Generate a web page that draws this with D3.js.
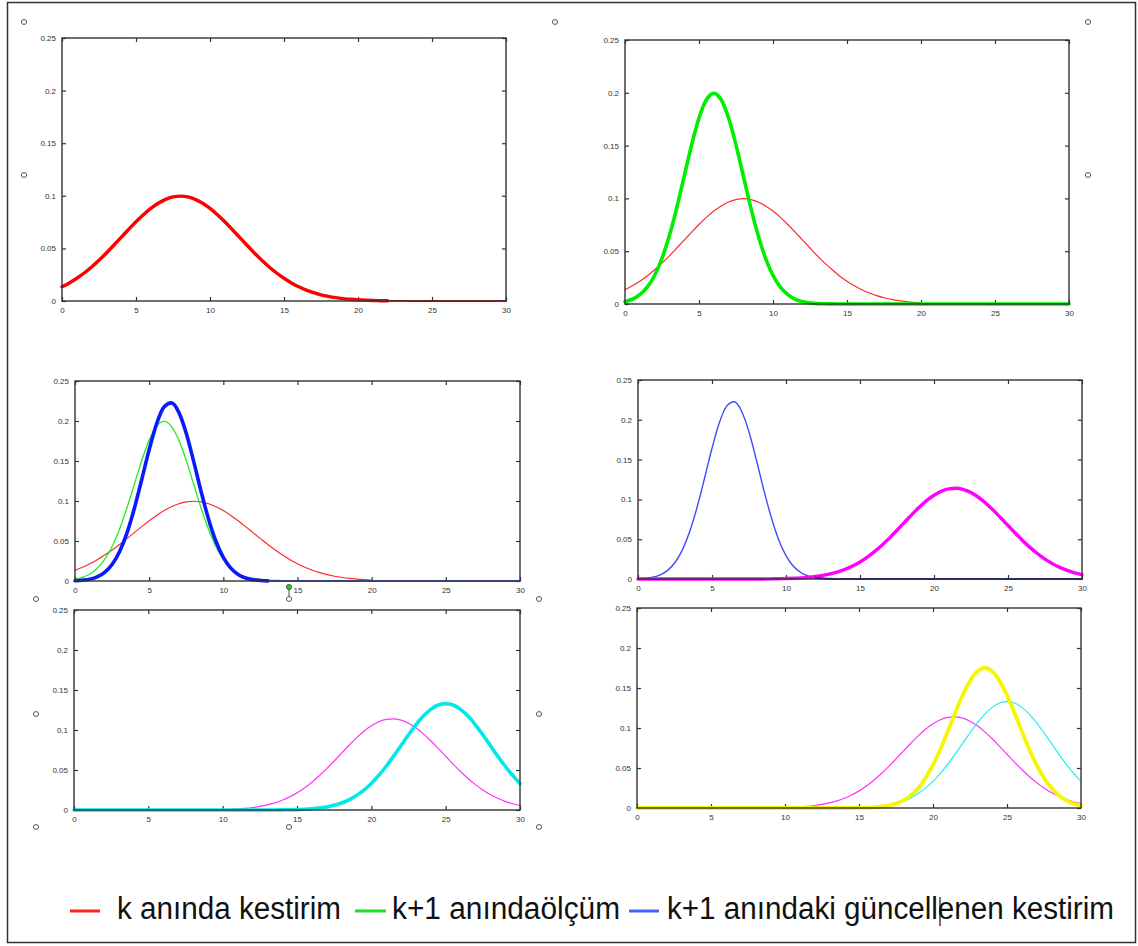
<!DOCTYPE html>
<html>
<head>
<meta charset="utf-8">
<script src="https://cdn.jsdelivr.net/npm/d3@7"></script>
<style>
  body { margin: 0; background: #fff; }
  svg { display: block; }
</style>
</head>
<body>
<div id="chart"></div>
<script>
// x grid shared by all curves (read every 0.5)
var xs = [0,0.5,1,1.5,2,2.5,3,3.5,4,4.5,5,5.5,6,6.5,7,7.5,8,8.5,9,9.5,
  10,10.5,11,11.5,12,12.5,13,13.5,14,14.5,15,15.5,16,16.5,17,17.5,18,18.5,19,19.5,
  20,20.5,21,21.5,22,22.5,23,23.5,24,24.5,25,25.5,26,26.5,27,27.5,28,28.5,29,29.5,30];

// k anında kestirim (red)
var redK = [0.0135,0.0172,0.0216,0.0266,0.0324,0.0387,0.0456,0.0530,0.0605,0.0680,
  0.0753,0.0820,0.0880,0.0929,0.0966,0.0989,0.0997,0.0989,0.0966,0.0929,
  0.0880,0.0820,0.0753,0.0680,0.0605,0.0530,0.0456,0.0387,0.0324,0.0266,
  0.0216,0.0172,0.0135,0.0104,0.0079,0.0059,0.0044,0.0032,0.0023,0.0016,
  0.0011,0.0008,0.0005,0.0003,0.0002,0.0001,0.0001,0,0,0,
  0,0,0,0,0,0,0,0,0,0,0];

// k+1 anında ölçüm (green)
var greenMeas = [0.0022,0.0045,0.0088,0.0159,0.0270,0.0432,0.0648,0.0913,0.1210,0.1506,
  0.1761,0.1934,0.1995,0.1934,0.1761,0.1506,0.1210,0.0913,0.0648,0.0432,
  0.0270,0.0159,0.0088,0.0045,0.0022,0.0010,0.0004,0.0002,0.0001,0,
  0,0,0,0,0,0,0,0,0,0,
  0,0,0,0,0,0,0,0,0,0,
  0,0,0,0,0,0,0,0,0,0,0];

// k+1 anındaki güncellenen kestirim (blue)
var blueUpd = [0.0004,0.0010,0.0023,0.0052,0.0108,0.0207,0.0366,0.0599,0.0907,0.1269,
  0.1642,0.1965,0.2175,0.2226,0.2108,0.1846,0.1495,0.1119,0.0776,0.0497,
  0.0294,0.0161,0.0082,0.0038,0.0017,0.0007,0.0002,0.0001,0,0,
  0,0,0,0,0,0,0,0,0,0,
  0,0,0,0,0,0,0,0,0,0,
  0,0,0,0,0,0,0,0,0,0,0];

// next prediction (magenta)
var magentaPred = [0,0,0,0,0,0,0,0,0,0,
  0,0,0,0,0,0,0,0,0.0002,0.0004,
  0.0006,0.0009,0.0014,0.0021,0.0031,0.0045,0.0064,0.0089,0.0122,0.0163,
  0.0214,0.0275,0.0347,0.0428,0.0517,0.0613,0.0711,0.0809,0.0901,0.0984,
  0.1052,0.1103,0.1133,0.1140,0.1123,0.1085,0.1027,0.0952,0.0865,0.0770,
  0.0672,0.0574,0.0481,0.0394,0.0317,0.0250,0.0193,0.0146,0.0108,0.0078,0.0056];

// next measurement (cyan)
var cyanMeas = [0,0,0,0,0,0,0,0,0,0,
  0,0,0,0,0,0,0,0,0,0,
  0,0,0,0,0,0,0,0,0.0002,0.0003,
  0.0005,0.0009,0.0015,0.0024,0.0038,0.0058,0.0087,0.0127,0.0180,0.0248,
  0.0332,0.0432,0.0547,0.0673,0.0807,0.0940,0.1065,0.1174,0.1258,0.1312,
  0.1330,0.1312,0.1258,0.1174,0.1065,0.0940,0.0807,0.0673,0.0547,0.0432,0.0332];

// next update (yellow)
var yellowUpd = [0,0,0,0,0,0,0,0,0,0,
  0,0,0,0,0,0,0,0,0,0,
  0,0,0,0,0,0,0,0,0,0,
  0.0002,0.0004,0.0008,0.0016,0.0030,0.0055,0.0095,0.0158,0.0249,0.0375,
  0.0538,0.0735,0.0958,0.1190,0.1409,0.1589,0.1708,0.1750,0.1708,0.1589,
  0.1409,0.1190,0.0958,0.0735,0.0538,0.0375,0.0249,0.0158,0.0095,0.0055,0.0030];

var xTicks = [0, 5, 10, 15, 20, 25, 30];
var yTicks = [0, 0.05, 0.1, 0.15, 0.2, 0.25];
var yTickLabels = ["0", "0.05", "0.1", "0.15", "0.2", "0.25"];

var legendLabels = ["k anında kestirim", "k+1 anındaölçüm", "k+1 anındaki güncellenen kestirim"];
var legendColors = ["#ff2020", "#22dd22", "#4466ff"];

var series = {
  red: xs.map((x, i) => [x, redK[i]]),
  green: xs.map((x, i) => [x, greenMeas[i]]),
  blue: xs.map((x, i) => [x, blueUpd[i]]),
  magenta: xs.map((x, i) => [x, magentaPred[i]]),
  cyan: xs.map((x, i) => [x, cyanMeas[i]]),
  yellow: xs.map((x, i) => [x, yellowUpd[i]])
};

var svgWidth = 1138;
var svgHeight = 946;

var svg = d3.select("#chart")
  .append("svg")
  .attr("width", svgWidth)
  .attr("height", svgHeight);

// outer frame
svg.append("rect")
  .attr("x", 7.5).attr("y", 2.5)
  .attr("width", 1128).attr("height", 940)
  .attr("fill", "#fff")
  .attr("stroke", "#333")
  .attr("stroke-width", 1.5);

// the six panels: plot box + curves drawn in order
var panels = [
  { x0: 62, x1: 506, y0: 38, y1: 301, layers: [
    { s: "red", c: "#ff0000", w: 1.8 },
    { s: "red", c: "#ff0000", w: 3.4, upTo: 22 }
  ]},
  { x0: 625, x1: 1069, y0: 40, y1: 304, layers: [
    { s: "red", c: "#ff2a2a", w: 1.2, upTo: 20 },
    { s: "green", c: "#00ee00", w: 3.6 }
  ]},
  { x0: 75, x1: 520, y0: 381, y1: 581, layers: [
    { s: "red", c: "#ff2a2a", w: 1.2, upTo: 20 },
    { s: "green", c: "#22ee22", w: 1.3 },
    { s: "blue", c: "#4a6cff", w: 2.2 },
    { s: "blue", c: "#0a1aff", w: 3.6, upTo: 13 }
  ]},
  { x0: 638, x1: 1082, y0: 380, y1: 579, layers: [
    { s: "blue", c: "#3c4cff", w: 1.4 },
    { s: "magenta", c: "#ff00ff", w: 3.4 },
    { s: "blue", c: "#1a22dd", w: 2, from: 12 }
  ]},
  { x0: 74, x1: 520, y0: 610, y1: 810, layers: [
    { s: "magenta", c: "#ff33ff", w: 1.2, from: 10.5 },
    { s: "cyan", c: "#00e8e8", w: 3.6 }
  ]},
  { x0: 637, x1: 1081, y0: 608, y1: 808, layers: [
    { s: "magenta", c: "#ff33ff", w: 1.2, from: 10.5 },
    { s: "cyan", c: "#22eeee", w: 1.2, from: 18 },
    { s: "yellow", c: "#f6f600", w: 3.8 }
  ]}
];

panels.forEach(p => {
  var g = svg.append("g");

  var xScale = d3.scaleLinear().domain([0, 30]).range([p.x0, p.x1]);
  var yScale = d3.scaleLinear().domain([0, 0.25]).range([p.y1, p.y0]);

  // axes with inward ticks on all four sides
  var bottomAxis = d3.axisBottom(xScale).tickValues(xTicks).tickSizeInner(-4).tickSizeOuter(0)
    .tickPadding(6).tickFormat(d3.format("d"));
  var topAxis = d3.axisTop(xScale).tickValues(xTicks).tickSizeInner(-4).tickSizeOuter(0).tickFormat("");
  var leftAxis = d3.axisLeft(yScale).tickValues(yTicks).tickSizeInner(-4).tickSizeOuter(0)
    .tickPadding(6).tickFormat((d, i) => yTickLabels[i]);
  var rightAxis = d3.axisRight(yScale).tickValues(yTicks).tickSizeInner(-4).tickSizeOuter(0).tickFormat("");

  [[bottomAxis, `translate(0,${p.y1})`], [topAxis, `translate(0,${p.y0})`],
   [leftAxis, `translate(${p.x0},0)`], [rightAxis, `translate(${p.x1},0)`]].forEach(a => {
    var ag = g.append("g").attr("transform", a[1]).call(a[0]);
    ag.select(".domain").remove();
    ag.selectAll("line").attr("stroke", "#333").attr("stroke-width", 1.2);
    ag.selectAll("text")
      .attr("font-family", "Liberation Sans, Arial, sans-serif")
      .attr("font-size", "8px")
      .attr("fill", "#333");
  });

  var line = d3.line()
    .x(d => xScale(d[0]))
    .y(d => yScale(d[1]))
    .curve(d3.curveMonotoneX);

  p.layers.forEach(l => {
    var pts = series[l.s].filter(d => (l.upTo == null || d[0] <= l.upTo) && (l.from == null || d[0] >= l.from));
    g.append("path")
      .datum(pts)
      .attr("fill", "none")
      .attr("stroke", l.c)
      .attr("stroke-width", l.w)
      .attr("stroke-linejoin", "round")
      .attr("stroke-linecap", "round")
      .attr("d", line);
  });

  // plot frame
  g.append("rect")
    .attr("x", p.x0).attr("y", p.y0)
    .attr("width", p.x1 - p.x0).attr("height", p.y1 - p.y0)
    .attr("fill", "none")
    .attr("stroke", "#333")
    .attr("stroke-width", 1.4);
});

// selection handles left over in the picture
var handles = [[24, 22], [24, 175], [555, 22], [1088, 22], [1088, 175],
  [36, 599], [289, 599], [539, 599], [36, 714], [539, 714], [36, 827], [289, 827], [539, 827]];

svg.append("line")
  .attr("x1", 289).attr("x2", 289).attr("y1", 588).attr("y2", 597)
  .attr("stroke", "#444").attr("stroke-width", 1);

svg.selectAll(".handle")
  .data(handles)
  .enter()
  .append("ellipse")
  .attr("class", "handle")
  .attr("cx", d => d[0])
  .attr("cy", d => d[1])
  .attr("rx", 2.6).attr("ry", 2.4)
  .attr("fill", "#fff")
  .attr("stroke", "#555")
  .attr("stroke-width", 1);

svg.append("circle")
  .attr("cx", 289).attr("cy", 587).attr("r", 2.6)
  .attr("fill", "#22cc22").attr("stroke", "#335533").attr("stroke-width", 0.8);

// legend
var legendX = [[70, 100, 117, 224], [355, 386, 392, 228], [629, 659, 667, 447]];

legendLabels.forEach((lab, i) => {
  svg.append("line")
    .attr("x1", legendX[i][0]).attr("x2", legendX[i][1])
    .attr("y1", 911).attr("y2", 911)
    .attr("stroke", legendColors[i])
    .attr("stroke-width", 3);

  svg.append("text")
    .attr("x", legendX[i][2])
    .attr("y", 919)
    .attr("font-family", "Liberation Sans, Arial, sans-serif")
    .attr("font-size", "31px")
    .attr("fill", "#111")
    .attr("textLength", legendX[i][3])
    .attr("lengthAdjust", "spacingAndGlyphs")
    .text(lab);
});

// text cursor inside "güncellenen"
svg.append("line")
  .attr("x1", 940).attr("x2", 940)
  .attr("y1", 897).attr("y2", 926)
  .attr("stroke", "#111").attr("stroke-width", 1.2);
</script>
</body>
</html>
